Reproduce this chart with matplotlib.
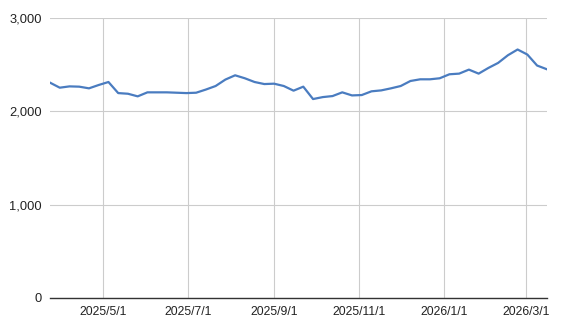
import matplotlib
matplotlib.use("Agg")
import matplotlib.pyplot as plt
import matplotlib.dates as mdates
import matplotlib.ticker as mticker
import pandas as pd

start_date = "2025-03-24"
n_weeks = 52
values = [2309, 2255, 2269, 2266, 2248, 2284, 2316, 2197, 2190, 2162,
          2205, 2205, 2205, 2201, 2197, 2201, 2235, 2273, 2342, 2388,
          2356, 2316, 2294, 2298, 2273, 2223, 2266, 2133, 2154, 2165,
          2205, 2172, 2176, 2216, 2226, 2248, 2273, 2327, 2345, 2345,
          2356, 2399, 2406, 2449, 2406, 2467, 2521, 2603, 2665, 2611,
          2493, 2453]
x_ticks = ["2025-05-01", "2025-07-01", "2025-09-01", "2025-11-01", "2026-01-01", "2026-03-01"]
y_ticks = [0, 1000, 2000, 3000]

dates = pd.date_range(start_date, periods=n_weeks, freq="7D")

plt.rcParams['font.family'] = ['Liberation Sans', 'DejaVu Sans']
fig = plt.figure(figsize=(5.62, 3.31), dpi=100)
ax = fig.add_axes([0.089, 0.1006, 0.884, 0.8441])

ax.plot(dates, values, color="#4a7cc0", linewidth=1.6, solid_joinstyle="round")

ax.set_xlim(pd.Timestamp(dates[0]), pd.Timestamp(dates[-1]))
ax.set_ylim(0, 3000)
ax.set_yticks(y_ticks)
ax.yaxis.set_major_formatter(mticker.FuncFormatter(lambda v, p: f"{int(v):,}"))
ax.set_xticks([pd.Timestamp(t) for t in x_ticks])
ax.xaxis.set_major_formatter(mticker.FuncFormatter(
    lambda v, p: f"{mdates.num2date(v).year}/{mdates.num2date(v).month}/{mdates.num2date(v).day}"))

ax.grid(True, color="#cccccc", linewidth=0.8)
ax.set_axisbelow(True)
for s in ["top", "right", "left"]:
    ax.spines[s].set_visible(False)
ax.spines["bottom"].set_color("#333333")
ax.spines["bottom"].set_linewidth(1.0)
ax.spines["bottom"].set_zorder(3)
ax.tick_params(axis="both", length=0, colors="#222222")
ax.tick_params(axis="x", pad=6, labelsize=8.8)
ax.tick_params(axis="y", pad=6, labelsize=9.3)

fig.savefig("out.png", dpi=100, facecolor="white")
